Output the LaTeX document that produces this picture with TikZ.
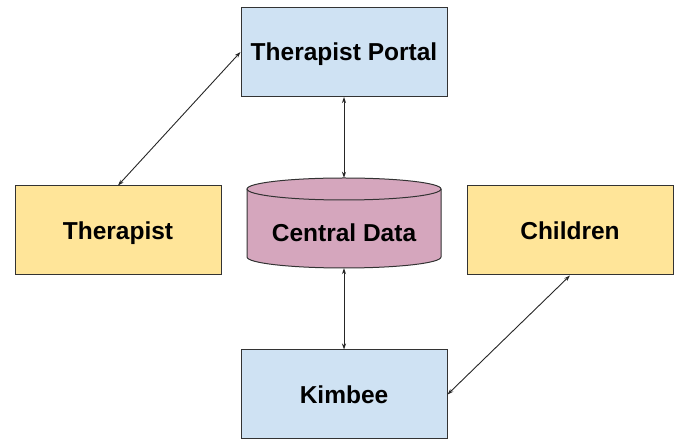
\documentclass[tikz,border=0pt]{standalone}
\usepackage{fontspec}
\setmainfont{Liberation Sans}
\usetikzlibrary{arrows.meta}
\definecolor{boxblue}{HTML}{CFE2F3}
\definecolor{boxyellow}{HTML}{FFE599}
\definecolor{boxpink}{HTML}{D5A6BD}
\definecolor{edge}{HTML}{333333}
\begin{document}
\begin{tikzpicture}[x=1pt,y=1pt,
  lbl/.style={font=\fontsize{24.5}{28}\selectfont\bfseries, text height=17.5pt, text depth=0pt},
  box/.style={lbl, draw=edge, line width=1pt, minimum width=206pt, minimum height=89pt, inner sep=0pt},
  bluebox/.style={box, fill=boxblue},
  yellowbox/.style={box, fill=boxyellow},
  link/.style={draw=black!85, line width=0.9pt, {Stealth[length=6pt,width=4pt]}-{Stealth[length=6pt,width=4pt]}}
]
\useasboundingbox (0,0) rectangle (677,441);
\node[bluebox] (portal) at (344,389) {Therapist Portal};
\node[yellowbox] (therapist) at (118,210.5) {Therapist};
\node[yellowbox] (children) at (570,210.5) {Children};
\node[bluebox] (kimbee) at (344,46.5) {Kimbee};
% cylinder
\fill[boxpink] (247,252) -- (247,184) arc (180:360:97 and 11) -- (441,252) arc (0:180:97 and 11) -- cycle;
\draw[edge, line width=1pt] (247,252) -- (247,184) arc (180:360:97 and 11) -- (441,252);
\draw[edge, line width=1pt] (344,252) ellipse (97 and 11);
\node[minimum width=194pt, minimum height=90pt, inner sep=0pt] (data) at (344,218) {};
\node[lbl, inner sep=0pt] (datalabel) at (344,208) {Central Data};
\draw[link] (portal.south) -- (data.north);
\draw[link] (data.south) -- (kimbee.north);
\draw[link] (therapist.north) -- (portal.west);
\draw[link] (children.south) -- (kimbee.east);
\end{tikzpicture}
\end{document}
